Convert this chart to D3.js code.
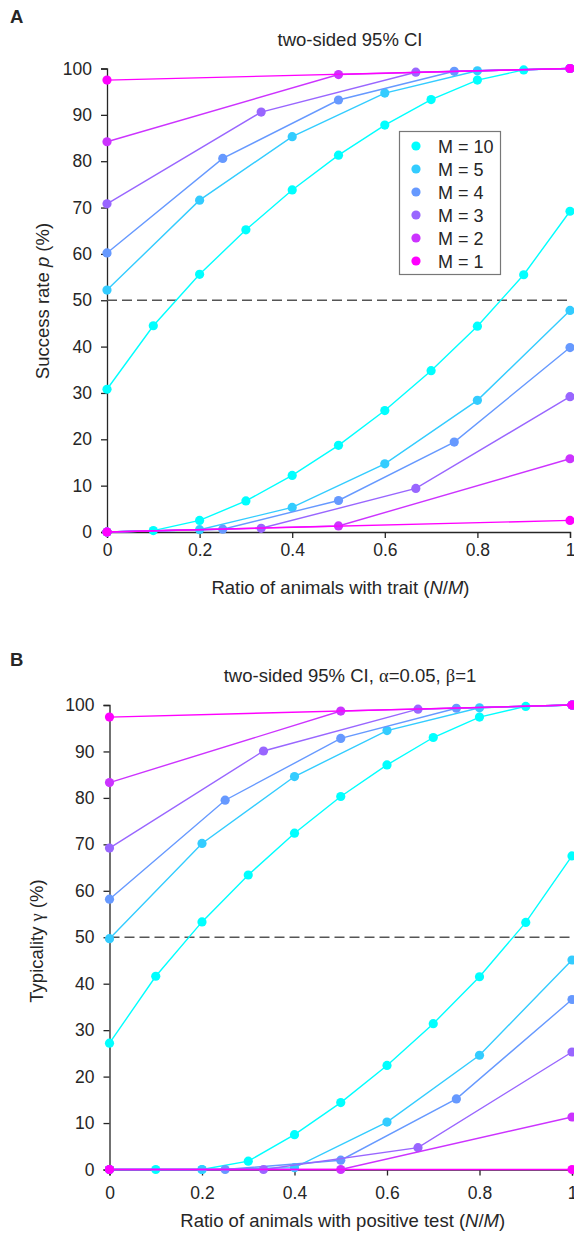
<!DOCTYPE html>
<html>
<head>
<meta charset="utf-8">
<script src="https://cdn.jsdelivr.net/npm/d3@7"></script>
<style>
	body { margin: 0; background: #fff; }
	svg text { font-family: "Liberation Sans", Arial, sans-serif; fill: #262626; }
</style>
</head>
<body>
<script>
var svgWidth = 574;
var svgHeight = 1234;

// group names and colours (cool colormap, cyan -> magenta)
var groupNames = ["M = 10", "M = 5", "M = 4", "M = 3", "M = 2", "M = 1"];
var groupColors = ["#00ffff", "#33ccff", "#6699ff", "#9966ff", "#cc33ff", "#ff00ff"];

// x values: ratio N/M for each M
var ratio10 = [0, 0.1, 0.2, 0.3, 0.4, 0.5, 0.6, 0.7, 0.8, 0.9, 1];
var ratio5 = [0, 0.2, 0.4, 0.6, 0.8, 1];
var ratio4 = [0, 0.25, 0.5, 0.75, 1];
var ratio3 = [0, 0.333, 0.667, 1];
var ratio2 = [0, 0.5, 1];
var ratio1 = [0, 1];

// panel A: success rate p (%), upper and lower bound
var upperA10 = [30.8, 44.5, 55.6, 65.2, 73.8, 81.3, 87.8, 93.3, 97.5, 99.7, 100];
var lowerA10 = [0, 0.3, 2.5, 6.7, 12.2, 18.7, 26.2, 34.8, 44.4, 55.5, 69.2];
var upperA5 = [52.2, 71.6, 85.3, 94.7, 99.5, 100];
var lowerA5 = [0, 0.5, 5.3, 14.7, 28.4, 47.8];
var upperA4 = [60.2, 80.6, 93.2, 99.4, 100];
var lowerA4 = [0, 0.6, 6.8, 19.4, 39.8];
var upperA3 = [70.8, 90.6, 99.2, 100];
var lowerA3 = [0, 0.8, 9.4, 29.2];
var upperA2 = [84.2, 98.7, 100];
var lowerA2 = [0, 1.3, 15.8];
var upperA1 = [97.5, 100];
var lowerA1 = [0, 2.5];

// panel B: typicality gamma (%), upper and lower bound
var upperB10 = [27.2, 41.6, 53.3, 63.4, 72.4, 80.3, 87.1, 93.0, 97.4, 99.7, 100];
var lowerB10 = [0, 0, 0, 1.8, 7.5, 14.4, 22.4, 31.4, 41.5, 53.2, 67.5];
var upperB5 = [49.7, 70.2, 84.6, 94.5, 99.4, 100];
var lowerB5 = [0, 0, 0.4, 10.2, 24.6, 45.1];
var upperB4 = [58.2, 79.5, 92.8, 99.3, 100];
var lowerB4 = [0, 0, 2.0, 15.2, 36.6];
var upperB3 = [69.2, 90.1, 99.1, 100];
var lowerB3 = [0, 0, 4.7, 25.3];
var upperB2 = [83.3, 98.7, 100];
var lowerB2 = [0, 0, 11.3];
var upperB1 = [97.4, 100];
var lowerB1 = [0, 0];

// ticks
var xTicks = [0, 0.2, 0.4, 0.6, 0.8, 1];
var yTicks = [0, 10, 20, 30, 40, 50, 60, 70, 80, 90, 100];

var ratios = [ratio10, ratio5, ratio4, ratio3, ratio2, ratio1];

var svg = d3.select('body')
	.append('svg')
	.attr('width', svgWidth)
	.attr('height', svgHeight);

drawPanel({
	letter: "A", letterY: 23,
	title: ["two-sided 95% CI"], titleY: 46,
	x0: 107, x1: 570, yTop: 68.5, yBottom: 532,
	xPad: 6, xTitleY: 594, yTitleX: 49, yTitleMid: 301,
	yTitle: [["Success rate ", null], ["p", "italic"], [" (%)", null]],
	xTitle: [["Ratio of animals with trait (", null], ["N", "italic"], ["/", null], ["M", "italic"], [")", null]],
	upper: [upperA10, upperA5, upperA4, upperA3, upperA2, upperA1],
	lower: [lowerA10, lowerA5, lowerA4, lowerA3, lowerA2, lowerA1],
	legend: true
});

drawPanel({
	letter: "B", letterY: 666,
	title: [["two-sided 95% CI, ", null], ["\u03b1", "greek"], ["=0.05, ", null], ["\u03b2", "greek"], ["=1", null]], titleY: 682,
	x0: 109.5, x1: 572, yTop: 705, yBottom: 1169.5,
	xPad: 11, xTitleY: 1227, yTitleX: 43, yTitleMid: 941,
	yTitle: [["Typicality ", null], ["\u03b3", "greek"], [" (%)", null]],
	xTitle: [["Ratio of animals with positive test (", null], ["N", "italic"], ["/", null], ["M", "italic"], [")", null]],
	upper: [upperB10, upperB5, upperB4, upperB3, upperB2, upperB1],
	lower: [lowerB10, lowerB5, lowerB4, lowerB3, lowerB2, lowerB1],
	legend: false
});

// 写入带样式的文字片段
function addParts(textSel, parts) {
	if (typeof parts[0] === "string") parts = [[parts[0], null]];
	parts.forEach(function(p) {
		var t = textSel.append('tspan').text(p[0]);
		if (p[1] === "italic") t.style('font-style', 'italic');
		if (p[1] === "greek") t.style('font-family', '"Liberation Serif", "Times New Roman", serif');
	});
}

function drawPanel(cfg) {
	var g = svg.append('g');

	var x = d3.scaleLinear().domain([0, 1]).range([cfg.x0, cfg.x1]);
	var y = d3.scaleLinear().domain([0, 100]).range([cfg.yBottom, cfg.yTop]);

	// panel letter
	g.append('text')
		.attr('x', 10)
		.attr('y', cfg.letterY)
		.style('font-size', '18.5px')
		.style('font-weight', 'bold')
		.text(cfg.letter);

	// title
	addParts(g.append('text')
		.attr('x', 350)
		.attr('y', cfg.titleY)
		.attr('text-anchor', 'middle')
		.style('font-size', '18.5px'), cfg.title);

	// axes
	var xAxis = g.append('g')
		.attr('transform', 'translate(0,' + cfg.yBottom + ')')
		.call(d3.axisBottom(x).tickValues(xTicks).tickSize(6).tickPadding(cfg.xPad)
			.tickFormat(function(d) { return d3.format('~g')(d); }));
	var yAxis = g.append('g')
		.attr('transform', 'translate(' + cfg.x0 + ',0)')
		.call(d3.axisLeft(y).tickValues(yTicks).tickSize(6).tickPadding(9));

	[xAxis, yAxis].forEach(function(a) {
		a.select('.domain').attr('stroke', '#262626').attr('stroke-width', 1.3);
		a.selectAll('.tick line').attr('stroke', '#262626').attr('stroke-width', 1.3);
		a.selectAll('.tick text')
			.attr('fill', '#262626')
			.style('font-family', '"Liberation Sans", Arial, sans-serif')
			.style('font-size', '17.5px');
	});

	// 50% reference line
	g.append('line')
		.attr('x1', x(0)).attr('x2', x(1))
		.attr('y1', y(50)).attr('y2', y(50))
		.attr('stroke', '#555')
		.attr('stroke-width', 1.3)
		.attr('stroke-dasharray', '10,5');

	// axis titles
	addParts(g.append('text')
		.attr('x', (cfg.x0 + cfg.x1) / 2 + 2)
		.attr('y', cfg.xTitleY)
		.attr('text-anchor', 'middle')
		.style('font-size', '18.5px'), cfg.xTitle);

	addParts(g.append('text')
		.attr('transform', 'translate(' + cfg.yTitleX + ',' + cfg.yTitleMid + ') rotate(-90)')
		.attr('text-anchor', 'middle')
		.style('font-size', '18.5px'), cfg.yTitle);

	var line = d3.line()
		.x(function(d) { return x(d[0]); })
		.y(function(d) { return y(d[1]); });

	// curves, M=10 first so magenta ends on top
	groupNames.forEach(function(name, i) {
		var col = groupColors[i];
		[cfg.upper[i], cfg.lower[i]].forEach(function(vals) {
			var pts = ratios[i].map(function(r, j) { return [r, vals[j]]; });
			var sg = g.append('g');
			sg.append('path')
				.attr('d', line(pts))
				.attr('fill', 'none')
				.attr('stroke', col)
				.attr('stroke-width', 1.4);
			sg.selectAll('circle')
				.data(pts)
				.enter()
				.append('circle')
				.attr('cx', function(d) { return x(d[0]); })
				.attr('cy', function(d) { return y(d[1]); })
				.attr('r', 4.6)
				.attr('fill', col);
		});
	});

	if (!cfg.legend) return;

	// legend
	var lg = g.append('g');
	lg.append('rect')
		.attr('x', 399.5).attr('y', 131.5)
		.attr('width', 101).attr('height', 143)
		.attr('fill', '#fff')
		.attr('stroke', '#777')
		.attr('stroke-width', 1.2);
	var item = lg.selectAll('g.item')
		.data(groupNames)
		.enter()
		.append('g')
		.attr('class', 'item')
		.attr('transform', function(d, i) { return 'translate(0,' + (146 + i * 23) + ')'; });
	item.append('circle')
		.attr('cx', 416).attr('cy', 0).attr('r', 4.6)
		.attr('fill', function(d, i) { return groupColors[i]; });
	item.append('text')
		.attr('x', 438).attr('y', 6.5)
		.style('font-size', '18px')
		.text(function(d) { return d; });
}
</script>
</body>
</html>
